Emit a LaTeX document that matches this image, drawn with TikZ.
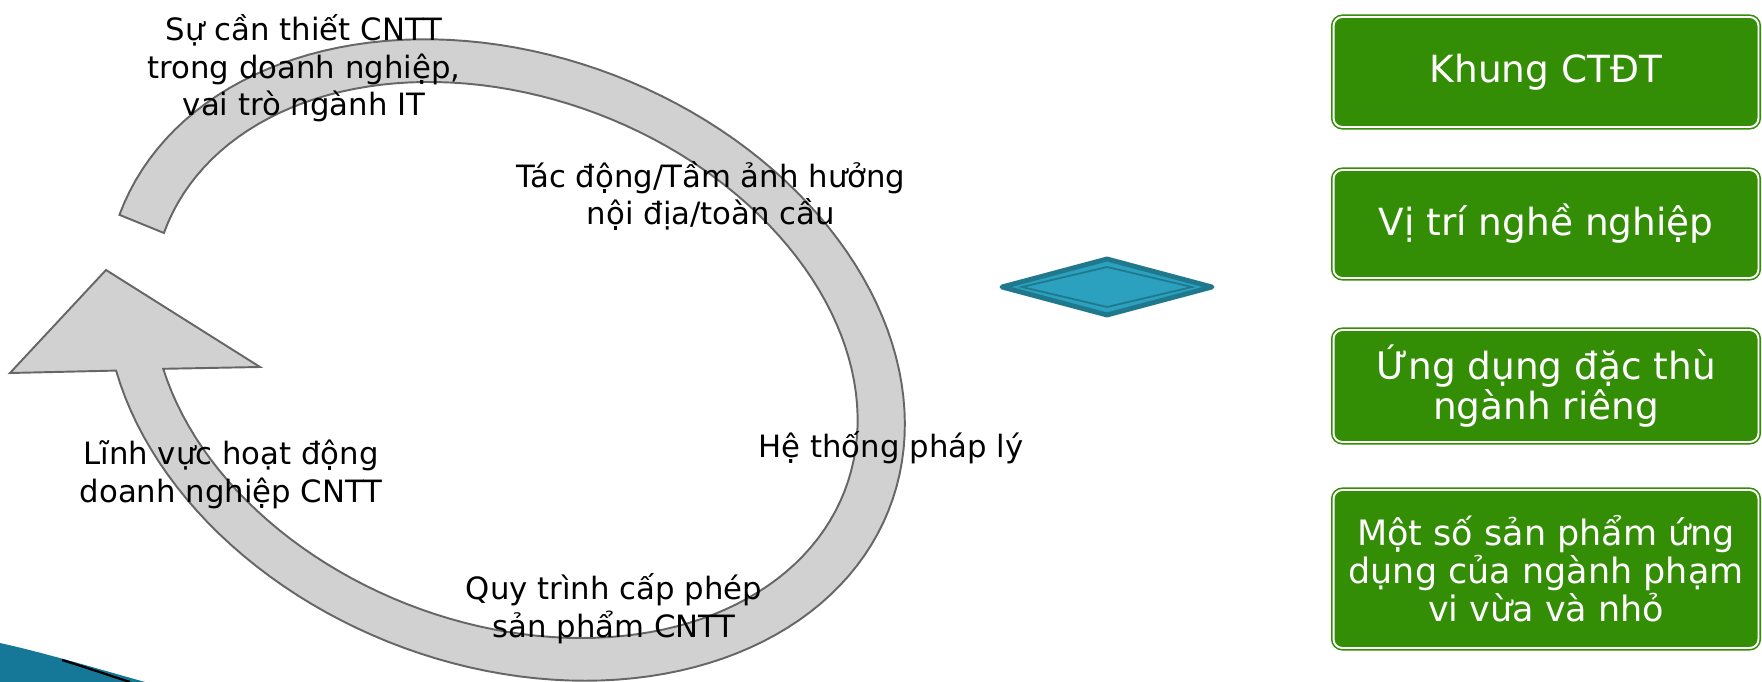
\documentclass[tikz,border=0pt]{standalone}
\usepackage{fontspec}
\setmainfont{DejaVu Sans}
\definecolor{ringfill}{RGB}{209,209,209}
\definecolor{ringline}{RGB}{102,102,102}
\definecolor{boxgreen}{RGB}{51,141,5}
\definecolor{dfill}{RGB}{43,161,191}
\definecolor{dline}{RGB}{31,120,140}
\definecolor{tealdeco}{RGB}{22,120,152}
\begin{document}
\begin{tikzpicture}[x=0.02cm,y=-0.02cm,
  ringshape/.style={fill=ringfill,draw=ringline,line width=1.1pt,line join=miter},
  lbl/.style={font=\fontsize{17.5}{21.6}\selectfont,align=center,inner sep=0pt,anchor=base},
  gbox/.style={draw=boxgreen,double=white,double distance=1.1pt,line width=0.9pt,fill=boxgreen,rounded corners=5pt,text=white,align=center,minimum width=8.5cm,inner sep=0pt},
  bigtxt/.style={font=\fontsize{21.3}{20.5}\selectfont},
  smalltxt/.style={font=\fontsize{19.9}{21.6}\selectfont},
  ]
\useasboundingbox (0,0) rectangle (1762,682);

% decoration bottom-left
\fill[tealdeco] (0,643) .. controls (45,653) and (95,668) .. (145,682) -- (0,682) -- cycle;
\draw[black,line width=1.3pt] (62,660) .. controls (85,667) and (105,674) .. (130,682);

% circular arrow (tilted ellipse ring, centre (505,360), tilt 21 deg)
\filldraw[ringshape]
  plot[domain=179.5:510.7,samples=140,variable=\t]
    ({505+412*cos(\t)*0.9336-305*sin(\t)*0.3584},{360+412*cos(\t)*0.3584+305*sin(\t)*0.9336})
  -- (10,373) -- (106,270) -- (260,367)
  -- plot[domain=510.2:179.2,samples=140,variable=\t]
    ({505+364*cos(\t)*0.9336-263*sin(\t)*0.3584},{360+364*cos(\t)*0.3584+263*sin(\t)*0.9336})
  -- cycle;

% labels (anchor = baseline of last line)
\node[lbl] (l1) at (304,116) {Sự cần thiết CNTT\\trong doanh nghiệp,\\vai trò ngành IT};
\node[lbl] (l2) at (711,225) {Tác động/Tầm ảnh hưởng\\nội địa/toàn cầu};
\node[lbl] (l3) at (891,457) {Hệ thống pháp lý};
\node[lbl] (l4) at (231,502) {Lĩnh vực hoạt động\\doanh nghiệp CNTT};
\node[lbl] (l5) at (614,637) {Quy trình cấp phép\\sản phẩm CNTT};

% diamond
\filldraw[fill=dfill,draw=dline,line width=2.8pt,line join=round] (1002,287) -- (1107,259) -- (1212,287) -- (1107,315) -- cycle;
\draw[dline,line width=1pt] (1022,287) -- (1107,267) -- (1192,287) -- (1107,307) -- cycle;

% green boxes
\node[gbox,bigtxt,minimum height=2.2cm] (b1) at (1546,72) {Khung CTĐT};
\node[gbox,bigtxt,minimum height=2.16cm] (b2) at (1546,224) {Vị trí nghề nghiệp};
\node[gbox,bigtxt,minimum height=2.24cm] (b3) at (1546,386) {Ứng dụng đặc thù\\ngành riêng};
\node[gbox,smalltxt,minimum height=3.16cm] (b4) at (1546,569) {Một số sản phẩm ứng\\dụng của ngành phạm\\vi vừa và nhỏ};
\end{tikzpicture}
\end{document}
